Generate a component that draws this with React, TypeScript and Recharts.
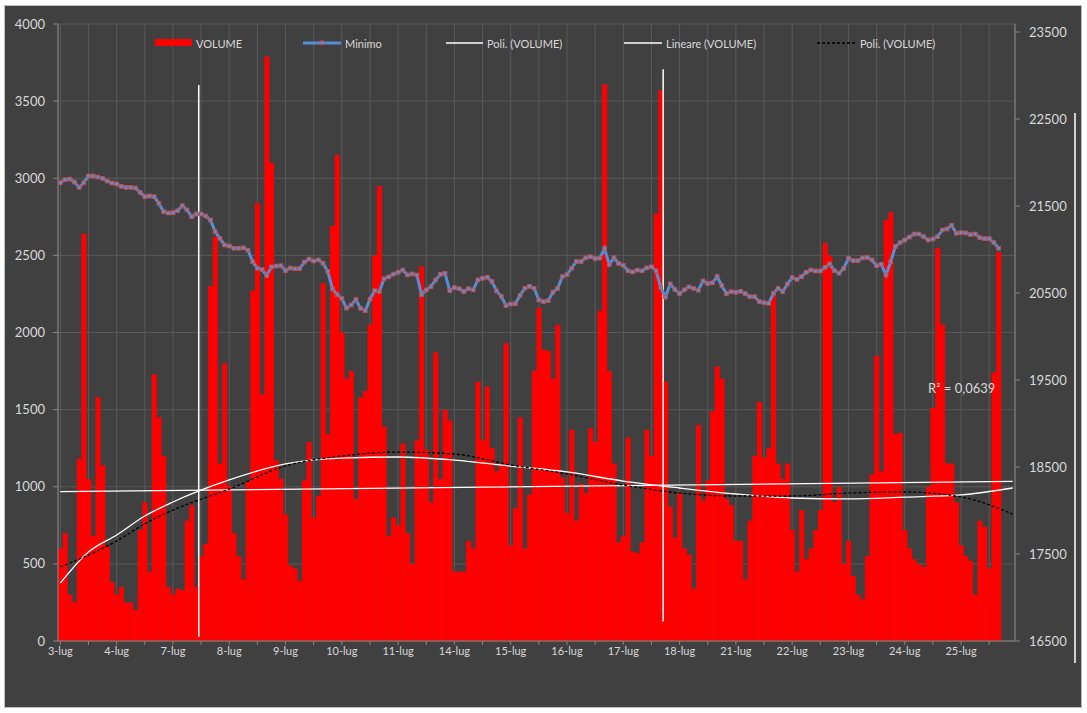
import React from 'react';
import { ComposedChart, Bar, Line, XAxis, YAxis, CartesianGrid, ReferenceLine } from 'recharts';

// giorni sull'asse (12 slot per giorno)
const days = ['3-lug', '4-lug', '7-lug', '8-lug', '9-lug', '10-lug', '11-lug', '14-lug', '15-lug', '16-lug', '17-lug', '18-lug', '21-lug', '22-lug', '23-lug', '24-lug', '25-lug'];
const perDay = 12;
const totalSlots = 204;

const volume = [
  [600, 700, 300, 250, 1180, 2640, 1050, 680, 1580, 1140, 610, 380],
  [300, 350, 250, 250, 200, 720, 900, 450, 1730, 1450, 1200, 350],
  [300, 340, 330, 780, 880, 350, 550, 630, 2300, 2620, 1150, 1800],
  [1000, 700, 550, 400, 1030, 2270, 2840, 1600, 3790, 3100, 1170, 1050],
  [820, 490, 470, 390, 1040, 1290, 800, 940, 2320, 1340, 2690, 3150],
  [2000, 1700, 1750, 920, 1580, 1620, 2050, 2500, 2950, 1390, 680, 800],
  [750, 1280, 700, 500, 1300, 2430, 1240, 900, 1870, 1050, 1500, 1430],
  [450, 450, 450, 650, 600, 1680, 1300, 1650, 1250, 1100, 1150, 1930],
  [620, 860, 1450, 600, 950, 1750, 2160, 1890, 1880, 1700, 2050, 1060],
  [830, 1370, 780, 1020, 960, 1380, 1290, 2140, 3610, 1750, 1150, 640],
  [680, 1320, 580, 570, 640, 1370, 1200, 2770, 3570, 1680, 870, 670],
  [960, 600, 560, 340, 1400, 910, 1040, 1490, 1780, 1700, 920, 880],
  [650, 650, 400, 780, 1200, 1550, 1190, 1250, 2250, 1150, 1050, 1150],
  [720, 450, 850, 530, 600, 720, 850, 2580, 2500, 900, 1000, 500],
  [650, 420, 300, 270, 550, 1080, 1850, 1100, 2730, 2780, 1340, 1350],
  [720, 600, 530, 500, 480, 1000, 1510, 2550, 2050, 1150, 1150, 900],
  [620, 550, 520, 300, 780, 740, 470, 1740, 2520],
];

const minimo = [
  [21768, 21803, 21810, 21776, 21714, 21768, 21845, 21845, 21833, 21818, 21787, 21764],
  [21753, 21726, 21714, 21714, 21707, 21657, 21607, 21615, 21607, 21531, 21435, 21420],
  [21423, 21446, 21504, 21454, 21377, 21408, 21408, 21385, 21339, 21205, 21128, 21052],
  [21041, 21014, 21014, 21019, 20992, 20859, 20784, 20770, 20700, 20801, 20810, 20815],
  [20757, 20788, 20779, 20779, 20855, 20890, 20868, 20881, 20841, 20748, 20549, 20482],
  [20438, 20327, 20362, 20425, 20323, 20296, 20429, 20527, 20518, 20664, 20686, 20717],
  [20738, 20765, 20707, 20719, 20707, 20480, 20535, 20573, 20650, 20715, 20726, 20527],
  [20562, 20550, 20516, 20550, 20535, 20650, 20669, 20681, 20631, 20523, 20462, 20355],
  [20374, 20378, 20474, 20554, 20577, 20554, 20420, 20401, 20412, 20508, 20554, 20688],
  [20712, 20785, 20862, 20862, 20905, 20918, 20896, 20901, 21012, 20828, 20905, 20840],
  [20819, 20755, 20742, 20763, 20755, 20789, 20802, 20755, 20560, 20455, 20605, 20540],
  [20493, 20536, 20570, 20553, 20532, 20639, 20609, 20617, 20690, 20583, 20493, 20515],
  [20508, 20519, 20493, 20458, 20458, 20401, 20389, 20382, 20497, 20554, 20516, 20604],
  [20677, 20657, 20688, 20738, 20765, 20753, 20753, 20795, 20834, 20757, 20726, 20784],
  [20899, 20872, 20872, 20903, 20910, 20880, 20814, 20830, 20707, 20860, 21033, 21079],
  [21109, 21144, 21178, 21178, 21148, 21109, 21121, 21148, 21224, 21236, 21278, 21186],
  [21194, 21190, 21171, 21178, 21136, 21125, 21125, 21079, 21014],
];

// linee di tendenza
const trendIdx = [0, 6, 12, 18, 24, 36, 48, 60, 72, 84, 96, 108, 120, 132, 144, 156, 168, 180, 192, 203];
const polyWhite = [376, 577, 687, 810, 901, 1044, 1148, 1186, 1193, 1173, 1134, 1096, 1037, 992, 953, 927, 921, 933, 947, 992];
const polyDashed = [480, 557, 648, 760, 849, 985, 1135, 1199, 1225, 1212, 1141, 1083, 1011, 959, 940, 940, 959, 966, 934, 823];
const linearIdx = [0, 203];
const linearVals = [968, 1035];

const leftTicks = [0, 500, 1000, 1500, 2000, 2500, 3000, 3500, 4000];
const rightTicks = [16500, 17500, 18500, 19500, 20500, 21500, 22500, 23500];
const markerLines = [
  { idx: 30, from: 26, to: 3604 },
  { idx: 129, from: 126, to: 3706 },
];
const r2Label = 'R\u00B2 = 0,0639';

const rows = Array.from({ length: totalSlots }, (_, i) => {
  const d = Math.floor(i / perDay);
  const k = i % perDay;
  const t = trendIdx.indexOf(i);
  const l = linearIdx.indexOf(i);
  return {
    idx: i,
    volume: volume[d]?.[k] ?? null,
    minimo: minimo[d]?.[k] ?? null,
    polyW: t >= 0 ? polyWhite[t] : null,
    polyD: t >= 0 ? polyDashed[t] : null,
    lin: l >= 0 ? linearVals[l] : null,
  };
});

const FONT = 'Lato, "Liberation Sans", sans-serif';
const TXT = '#d9d9d9';
const AXIS = '#868686';

const MinimoDot = (props: any) => {
  const { cx, cy, index } = props;
  if (cx == null || cy == null) return <g key={`d${index}`} />;
  return <rect key={`d${index}`} x={cx - 1.8} y={cy - 1.8} width={3.6} height={3.6} fill="#5b8fd6" stroke="#c0504d" strokeWidth={1} />;
};

const LegendOverlay = () => (
  <svg width={1087} height={60} style={{ position: 'absolute', left: 0, top: 0, pointerEvents: 'none' }}>
    <g fontFamily={FONT} fontSize={11} fill={TXT}>
      <rect x={155} y={39} width={37} height={7} fill="#ff0000" />
      <text x={196} y={43} dominantBaseline="central">VOLUME</text>
      <line x1={303} x2={341} y1={43} y2={43} stroke="#558ed5" strokeWidth={3} />
      <rect x={320} y={41} width={3.6} height={3.6} fill="#5b8fd6" stroke="#c0504d" strokeWidth={1} />
      <text x={345} y={43} dominantBaseline="central">Minimo</text>
      <line x1={446} x2={483} y1={43} y2={43} stroke="#ffffff" strokeWidth={1.3} />
      <text x={487} y={43} dominantBaseline="central">Poli. (VOLUME)</text>
      <line x1={624} x2={662} y1={43} y2={43} stroke="#ffffff" strokeWidth={1.3} />
      <text x={666} y={43} dominantBaseline="central">Lineare (VOLUME)</text>
      <line x1={817} x2={856} y1={43} y2={43} stroke="#000000" strokeWidth={1.3} strokeDasharray="3 2" />
      <text x={860} y={43} dominantBaseline="central">Poli. (VOLUME)</text>
    </g>
  </svg>
);

export default function App() {
  return (
    <div style={{ position: 'absolute', left: 0, top: 0, width: 1087, height: 713, background: '#ffffff', fontFamily: FONT }}>
      <div style={{ position: 'absolute', left: 4, top: 5, width: 1076, height: 701, background: '#404040', border: '1px solid #bfbfbf' }} />
      <div style={{ position: 'absolute', left: 1074, top: 113, width: 2, height: 550, background: '#cfcfcf' }} />
      <div style={{ position: 'absolute', left: 0, top: 0 }}>
        <ComposedChart
          width={1087}
          height={713}
          data={rows}
          margin={{ top: 24, right: 12, left: 0, bottom: 42 }}
          barCategoryGap={0}
          barGap={0}
        >
          <CartesianGrid yAxisId="left" stroke="#595959" strokeWidth={1} />
          <XAxis
            dataKey="idx"
            ticks={rows.filter((r) => r.idx % 6 === 0).map((r) => r.idx)}
            interval={0}
            tickFormatter={(v: number) => (v % perDay === 0 ? days[v / perDay] ?? '' : '')}
            tick={{ fill: TXT, fontSize: 11, fontFamily: FONT }}
            axisLine={{ stroke: AXIS }}
            tickLine={{ stroke: AXIS }}
            tickSize={4}
            height={30}
          />
          <YAxis
            yAxisId="left"
            domain={[0, 4000]}
            ticks={leftTicks}
            width={58}
            tick={{ fill: TXT, fontSize: 13, fontFamily: FONT }}
            axisLine={{ stroke: AXIS }}
            tickLine={{ stroke: AXIS }}
            tickSize={5}
            tickMargin={8}
          />
          <YAxis
            yAxisId="right"
            orientation="right"
            domain={[16500, 23592]}
            ticks={rightTicks}
            width={60}
            tick={{ fill: TXT, fontSize: 13, fontFamily: FONT, textAnchor: 'start' }}
            axisLine={{ stroke: AXIS }}
            tickLine={{ stroke: AXIS }}
            tickSize={5}
            tickMargin={9}
            allowDataOverflow
          />
          <Bar yAxisId="left" dataKey="volume" fill="#ff0000" isAnimationActive={false} />
          <Line yAxisId="left" type="monotone" dataKey="polyW" stroke="#ffffff" strokeWidth={1.3} dot={false} connectNulls isAnimationActive={false} />
          <Line yAxisId="left" type="linear" dataKey="lin" stroke="#ffffff" strokeWidth={1.3} dot={false} connectNulls isAnimationActive={false} />
          <Line yAxisId="left" type="monotone" dataKey="polyD" stroke="#000000" strokeWidth={1.3} strokeDasharray="3 2" dot={false} connectNulls isAnimationActive={false} />
          {markerLines.map((m) => (
            <ReferenceLine
              key={m.idx}
              yAxisId="left"
              position="start"
              segment={[{ x: m.idx, y: m.from }, { x: m.idx, y: m.to }]}
              stroke="#ffffff"
              strokeWidth={1.5}
            />
          ))}
          <Line yAxisId="right" type="linear" dataKey="minimo" stroke="#558ed5" strokeWidth={3} dot={MinimoDot} activeDot={false} isAnimationActive={false} />
        </ComposedChart>
      </div>
      <LegendOverlay />
      <div style={{ position: 'absolute', left: 928, top: 380, color: TXT, fontSize: 13, whiteSpace: 'nowrap' }}>{r2Label}</div>
    </div>
  );
}
